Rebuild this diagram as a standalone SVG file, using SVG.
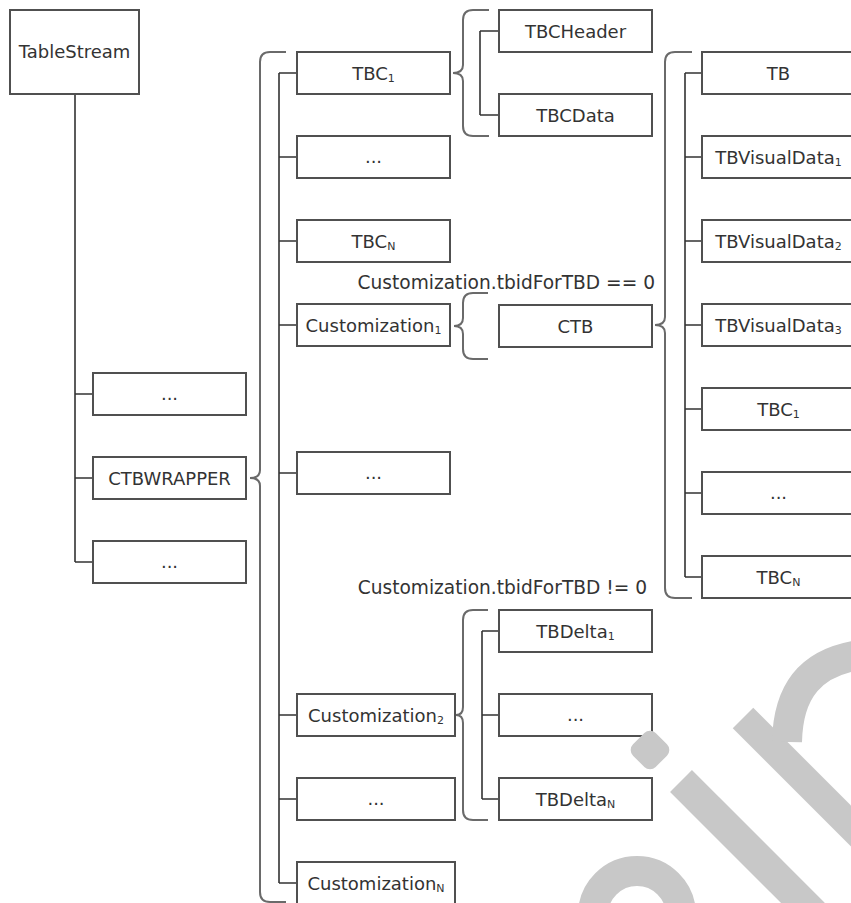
<svg xmlns="http://www.w3.org/2000/svg" width="851" height="903" viewBox="0 0 851 903">
<style>
.box{fill:#fff;stroke:#505050;stroke-width:2}
.t{font-family:"DejaVu Sans",Verdana,sans-serif;font-size:18px;fill:#333;text-anchor:middle}
.lbl{font-family:"DejaVu Sans",Verdana,sans-serif;font-size:18.6px;fill:#333;text-anchor:end}
.s{font-size:11px}
.ln{fill:none;stroke:#333;stroke-width:1.6}
.br{fill:none;stroke:#6a6a6a;stroke-width:2}
.wm{fill:none;stroke:#c8c8c8}
</style>
<rect width="851" height="903" fill="#fff"/>
<g id="connectors">
<path class="ln" d="M75 94 V562 M75 394 H93 M75 478 H93 M75 562 H93"/>
<path class="ln" d="M279 73 V883 M279 73 H297 M279 157 H297 M279 241 H297 M279 325 H297 M279 473 H297 M279 715 H297 M279 799 H297 M279 883 H297"/>
<path class="ln" d="M480 31 V115 M480 31 H499 M480 115 H499"/>
<path class="ln" d="M685 73 V577 M685 73 H702 M685 157 H702 M685 241 H702 M685 325 H702 M685 409 H702 M685 493 H702 M685 577 H702"/>
<path class="ln" d="M482 631 V799 M482 631 H499 M482 715 H499 M482 799 H499"/>
<path class="br" d="M286 52 H270 Q260 52 260 62 V470 Q260 478 250 478 Q260 478 260 486 V892 Q260 902 270 902 H286"/>
<path class="br" d="M489 10 H473 Q463 10 463 20 V65 Q463 73 453 73 Q463 73 463 81 V126 Q463 136 473 136 H489"/>
<path class="br" d="M488 293 H473 Q463 293 463 303 V318 Q463 326 454 326 Q463 326 463 334 V349 Q463 359 473 359 H488"/>
<path class="br" d="M692 52 H675 Q665 52 665 62 V317 Q665 325 655 325 Q665 325 665 333 V588 Q665 598 675 598 H692"/>
<path class="br" d="M488 610 H473 Q463 610 463 620 V707 Q463 715 456 715 Q463 715 463 723 V810 Q463 820 473 820 H488"/>
</g>
<g id="TableStream"><rect class="box" x="10" y="10" width="129" height="84"/><text class="t" x="74.5" y="58">TableStream</text></g>
<g id="left-dots1"><rect class="box" x="93" y="373" width="153" height="42"/><text class="t" x="169.5" y="400">...</text></g>
<g id="CTBWRAPPER"><rect class="box" x="93" y="457" width="153" height="42"/><text class="t" x="169.5" y="484.5">CTBWRAPPER</text></g>
<g id="left-dots2"><rect class="box" x="93" y="541" width="153" height="42"/><text class="t" x="169.5" y="568">...</text></g>
<g id="TBC1"><rect class="box" x="297" y="52" width="153" height="42"/><text class="t" x="373.5" y="79.5">TBC<tspan class="s" dy="2">1</tspan></text></g>
<g id="col2-dots1"><rect class="box" x="297" y="136" width="153" height="42"/><text class="t" x="373.5" y="163">...</text></g>
<g id="TBCN"><rect class="box" x="297" y="220" width="153" height="42"/><text class="t" x="373.5" y="247.5">TBC<tspan class="s" dy="2">N</tspan></text></g>
<g id="Customization1"><rect class="box" x="297" y="304" width="153" height="42"/><text class="t" x="373.5" y="331.5">Customization<tspan class="s" dy="2">1</tspan></text></g>
<g id="col2-dots2"><rect class="box" x="297" y="452" width="153" height="42"/><text class="t" x="373.5" y="479">...</text></g>
<g id="Customization2"><rect class="box" x="297" y="694" width="158" height="42"/><text class="t" x="376" y="721.5">Customization<tspan class="s" dy="2">2</tspan></text></g>
<g id="col2-dots3"><rect class="box" x="297" y="778" width="158" height="42"/><text class="t" x="376" y="805">...</text></g>
<g id="CustomizationN"><rect class="box" x="297" y="862" width="158" height="42"/><text class="t" x="376" y="889.5">Customization<tspan class="s" dy="2">N</tspan></text></g>
<g id="TBCHeader"><rect class="box" x="499" y="10" width="153" height="42"/><text class="t" x="575.5" y="37.5">TBCHeader</text></g>
<g id="TBCData"><rect class="box" x="499" y="94" width="153" height="42"/><text class="t" x="575.5" y="121.5">TBCData</text></g>
<g id="CTB"><rect class="box" x="499" y="305" width="153" height="42"/><text class="t" x="575.5" y="332.5">CTB</text></g>
<g id="TBDelta1"><rect class="box" x="499" y="610" width="153" height="42"/><text class="t" x="575.5" y="637.5">TBDelta<tspan class="s" dy="2">1</tspan></text></g>
<g id="TBDelta-dots"><rect class="box" x="499" y="694" width="153" height="42"/><text class="t" x="575.5" y="721">...</text></g>
<g id="TBDeltaN"><rect class="box" x="499" y="778" width="153" height="42"/><text class="t" x="575.5" y="805.5">TBDelta<tspan class="s" dy="2">N</tspan></text></g>
<g id="TB"><rect class="box" x="702" y="52" width="153" height="42"/><text class="t" x="778.5" y="79.5">TB</text></g>
<g id="TBVisualData1"><rect class="box" x="702" y="136" width="153" height="42"/><text class="t" x="778.5" y="163.5">TBVisualData<tspan class="s" dy="2">1</tspan></text></g>
<g id="TBVisualData2"><rect class="box" x="702" y="220" width="153" height="42"/><text class="t" x="778.5" y="247.5">TBVisualData<tspan class="s" dy="2">2</tspan></text></g>
<g id="TBVisualData3"><rect class="box" x="702" y="304" width="153" height="42"/><text class="t" x="778.5" y="331.5">TBVisualData<tspan class="s" dy="2">3</tspan></text></g>
<g id="TBC1b"><rect class="box" x="702" y="388" width="153" height="42"/><text class="t" x="778.5" y="415.5">TBC<tspan class="s" dy="2">1</tspan></text></g>
<g id="right-dots"><rect class="box" x="702" y="472" width="153" height="42"/><text class="t" x="778.5" y="499">...</text></g>
<g id="TBCNb"><rect class="box" x="702" y="556" width="153" height="42"/><text class="t" x="778.5" y="583.5">TBC<tspan class="s" dy="2">N</tspan></text></g>
<g id="labels">
<text class="lbl" x="655" y="289">Customization.tbidForTBD == 0</text>
<text class="lbl" x="647" y="594">Customization.tbidForTBD != 0</text>
</g>
<g id="watermark">
<rect x="-16" y="-16" width="32" height="32" rx="8" fill="#c8c8c8" transform="translate(650,750) rotate(45)"/>
<path class="wm" stroke-width="31" d="M681 781 L820 920"/>
<circle class="wm" stroke-width="30" cx="637" cy="915" r="44"/>
<path class="wm" stroke-width="29" d="M743 718 L900 875"/>
<path class="wm" stroke-width="30" d="M787 742 C788 690 812 662 860 655"/>
</g>
</svg>
